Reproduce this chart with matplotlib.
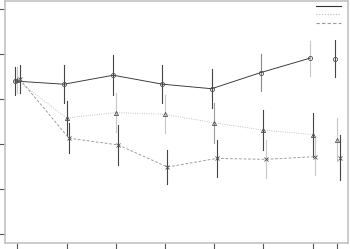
import matplotlib

matplotlib.use("Agg")
import matplotlib.pyplot as plt
from matplotlib.lines import Line2D

# time points (the last one is a separate follow-up, not joined by the line)
times = [0, 1, 2, 3, 4, 5, 6]
follow_up_time = 6.5
tick_positions = [0, 1, 2, 3, 4, 5, 6, 6.5]
y_ticks = [0, 1, 2, 3, 4, 5]

group_a_mean = [3.40, 3.33, 3.53, 3.33, 3.23, 3.59, 3.91]
group_a_err = [0.31, 0.42, 0.44, 0.42, 0.43, 0.42, 0.39]
group_a_follow = (3.90, 0.42)

group_b_mean = [3.42, 2.58, 2.70, 2.66, 2.47, 2.31, 2.21]
group_b_err = [0.29, 0.38, 0.43, 0.42, 0.44, 0.44, 0.49]
group_b_follow = (2.10, 0.47)

group_c_mean = [3.44, 2.13, 1.98, 1.49, 1.68, 1.66, 1.72]
group_c_err = [0.31, 0.34, 0.44, 0.38, 0.42, 0.42, 0.41]
group_c_follow = (1.70, 0.49)

DARK = "#454545"
LIGHT = "#c8c8c8"

series = [
    # mean, err, follow-up, x offset, line style, line colour, marker, bar colours
    (group_a_mean, group_a_err, group_a_follow, -0.05, "-", "#333333", "o",
     [DARK, DARK, DARK, DARK, DARK, "#8a8a8a", LIGHT, DARK]),
    (group_b_mean, group_b_err, group_b_follow, 0.0, (0, (1, 1.5)), "#bdbdbd", "^",
     [LIGHT, DARK, LIGHT, LIGHT, "#9a9a9a", DARK, DARK, LIGHT]),
    (group_c_mean, group_c_err, group_c_follow, 0.05, (0, (3, 2)), "#999999", "x",
     [DARK, DARK, DARK, DARK, DARK, LIGHT, LIGHT, DARK]),
]

fig = plt.figure(figsize=(3.5, 2.49), dpi=100)
ax = fig.add_axes([5 / 350, 1 - 243 / 249, 343 / 350, 242 / 249])

handles = []
for mean, err, follow, dx, ls, lc, marker, bar_colors in series:
    xs = [t + dx for t in times]
    ax.plot(xs, mean, linestyle=ls, color=lc, linewidth=0.65, zorder=3)
    all_x = xs + [follow_up_time + dx]
    all_y = list(mean) + [follow[0]]
    all_e = list(err) + [follow[1]]
    for x, y, e, c in zip(all_x, all_y, all_e, bar_colors):
        ax.plot([x, x], [y - e, y + e], color=c, linewidth=0.8, zorder=2)
    ax.plot(all_x, all_y, linestyle="none", marker=marker, markersize=3.0,
            markerfacecolor="none", markeredgecolor="#505050",
            markeredgewidth=0.6, zorder=4)
    handles.append(Line2D([], [], linestyle=ls, color=lc, linewidth=0.8))

ax.legend(handles, ["", "", ""], loc="upper right", frameon=False,
          bbox_to_anchor=(0.985, 1.0), handlelength=3.6, handletextpad=0.0,
          labelspacing=0.36, borderaxespad=0.3, borderpad=0.0, fontsize=5)

ax.set_xlim(-0.25, 6.72)
ax.set_ylim(-0.2, 5.18)
ax.set_xticks(tick_positions)
ax.set_yticks(y_ticks)
ax.set_xticklabels([])
ax.set_yticklabels([])
ax.tick_params(axis="both", length=4, width=0.8, color="#555555", pad=0)
for spine in ax.spines.values():
    spine.set_color("#c2c2c2")
    spine.set_linewidth(1.2)

fig.savefig("out.png", dpi=100)
